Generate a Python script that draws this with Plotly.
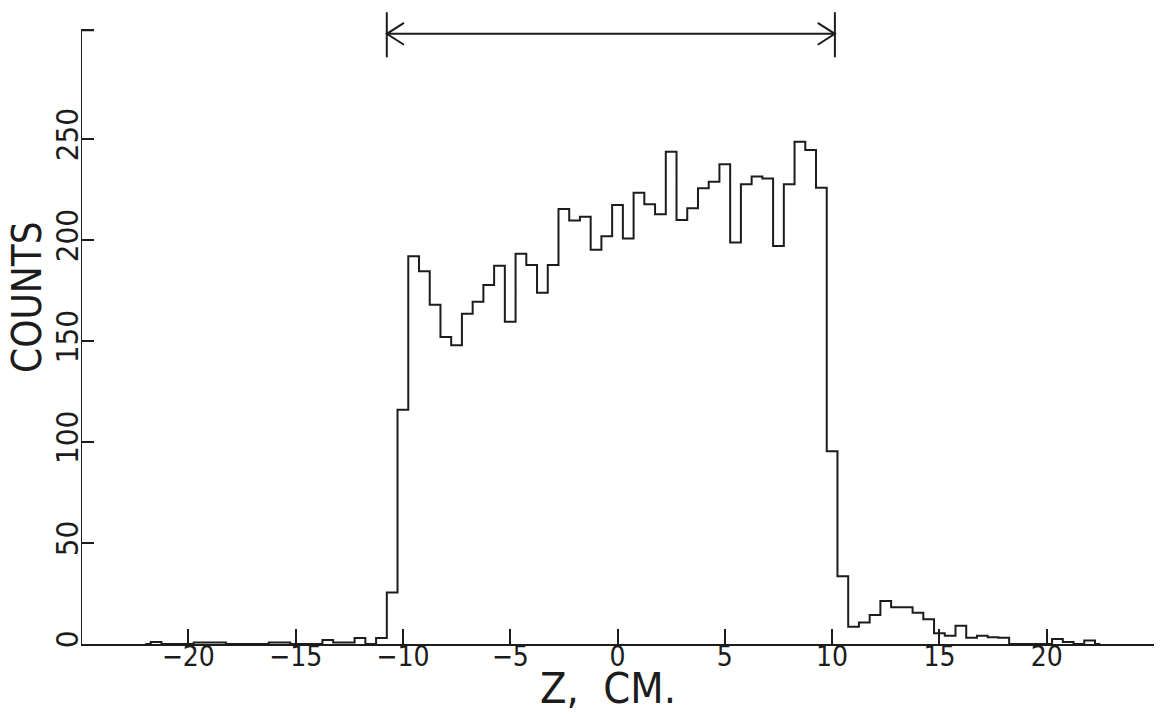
import plotly.graph_objects as go

# ---- data ----
bin_width = 0.5
first_center = -22.0
counts = [
    0, 1, 0, 0, 0, 0.7, 0.7, 0.7, 0, 0,          # -22.0 .. -17.5
    0, 0, 0.7, 0.7, 0, 0, 0, 2, 0.7, 0.7,        # -17.0 .. -12.5
    3, 0, 3, 25.5, 116, 192, 184.6, 168, 152, 148,  # -12.0 .. -7.5
    163.6, 169.5, 177.8, 187.4, 159.6, 193.3, 187.7, 174, 187.7, 215.5,  # -7.0 .. -2.5
    209.7, 211.6, 195.3, 202, 217.4, 200.9, 223.5, 217.8, 212.8, 243.8,  # -2.0 .. 2.5
    210, 215.8, 225.7, 229, 237.6, 198.9, 227.7, 231.5, 230.6, 197.1,    # 3.0 .. 7.5
    227.7, 248.8, 244.7, 226, 95.5, 33.5, 8.5, 10.6, 14.4, 21.3,         # 8.0 .. 12.5
    18.2, 18.2, 15.5, 12.2, 5.3, 4.1, 9.1, 3.1, 4.1, 3.3,                # 13.0 .. 17.5
    3.1, 0, 0, 0, 0, 2.5, 1, 0, 1.7, 0,                                  # 18.0 .. 22.5
]
z_centers = [first_center + bin_width * i for i in range(len(counts))]

x_tick_vals = [-20, -15, -10, -5, 0, 5, 10, 15, 20, 25]
x_tick_text = ["\u221220", "\u221215", "\u221210", "\u22125", "0", "5", "10", "15", "20", ""]
y_tick_vals = [0, 50, 100, 150, 200, 250, 304]
y_tick_text = ["0", "50", "100", "150", "200", "250", ""]

x_range = [-25, 25]
y_range = [0, 316]
y_axis_top = 304

arrow_left = -10.75
arrow_right = 10.13
arrow_level = 302.2
arrow_bar_low = 290.6
arrow_bar_high = 312.9
chev_dx = 0.8
chev_dy = 5.4

ink = "#1c1c1c"
family = "Liberation Sans Narrow, DejaVu Sans Condensed, Arial Narrow, sans-serif"
x_tick_font = dict(family=family, size=28, color=ink)
y_tick_font = dict(family=family, size=31, color=ink)
ylabel_font = dict(family=family, size=40, color=ink)
xlabel_font = dict(family=family, size=43, color=ink)

fig = go.Figure()

# histogram outline
fig.add_trace(go.Scatter(
    x=z_centers, y=counts, mode="lines",
    line=dict(shape="hvh", color=ink, width=2),
    hoverinfo="skip", showlegend=False,
))

# y axis line with top end tick
fig.add_trace(go.Scatter(
    x=[x_range[0] + 0.6, x_range[0], x_range[0]],
    y=[y_axis_top, y_axis_top, 0],
    mode="lines", line=dict(color=ink, width=2),
    hoverinfo="skip", showlegend=False,
))

# double-headed range arrow above the plot
ax = [arrow_left, arrow_left, None,
      arrow_left + chev_dx, arrow_left, arrow_left + chev_dx, None,
      arrow_left, arrow_right, None,
      arrow_right, arrow_right, None,
      arrow_right - chev_dx, arrow_right, arrow_right - chev_dx]
ay = [arrow_bar_low, arrow_bar_high, None,
      arrow_level + chev_dy, arrow_level, arrow_level - chev_dy, None,
      arrow_level, arrow_level, None,
      arrow_bar_low, arrow_bar_high, None,
      arrow_level + chev_dy, arrow_level, arrow_level - chev_dy]
fig.add_trace(go.Scatter(
    x=ax, y=ay, mode="lines", connectgaps=False,
    line=dict(color=ink, width=2),
    hoverinfo="skip", showlegend=False,
))

fig.update_layout(
    width=1160, height=717,
    margin=dict(l=81, r=6, t=6, b=73, autoexpand=False),
    paper_bgcolor="white", plot_bgcolor="white",
    showlegend=False,
    xaxis=dict(
        range=x_range, showgrid=False, zeroline=False, automargin=False,
        showline=True, linecolor=ink, linewidth=2,
        ticks="inside", ticklen=15, tickwidth=2, tickcolor=ink,
        tickvals=x_tick_vals, ticktext=x_tick_text,
        tickfont=x_tick_font, ticklabelstandoff=-14,
    ),
    yaxis=dict(
        range=y_range, showgrid=False, zeroline=False, automargin=False,
        showline=False,
        ticks="inside", ticklen=13, tickwidth=2, tickcolor=ink,
        tickvals=y_tick_vals, ticktext=y_tick_text,
        tickangle=-90, tickfont=y_tick_font, ticklabelstandoff=-4,
    ),
    annotations=[
        dict(text="COUNTS", xref="paper", yref="y", x=-0.051, y=172,
             textangle=-90, showarrow=False, font=ylabel_font,
             xanchor="center", yanchor="middle"),
        dict(text="Z,  CM.", xref="x", yref="paper", x=-0.45, y=-0.112,
             showarrow=False, font=xlabel_font,
             xanchor="center", yanchor="bottom"),
    ],
)

fig.write_html("out.html", config={"displayModeBar": False},
               post_script="document.body.style.margin='0';")
